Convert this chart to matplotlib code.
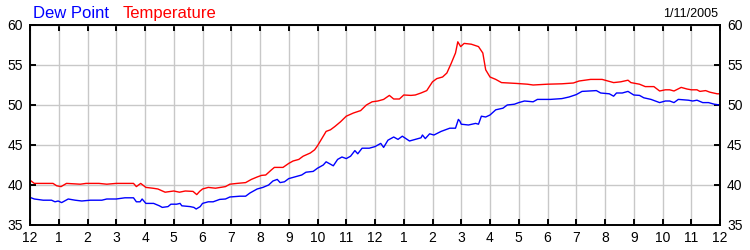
"""Dew point / temperature over one day, 1/11/2005."""

import matplotlib
matplotlib.use('Agg')
import matplotlib.pyplot as plt

plt.rcParams['font.family'] = ['Liberation Sans', 'DejaVu Sans']

# hours since midnight, degrees F
temp_hours = [
    0.0, 0.15, 0.8, 0.93, 1.08, 1.27, 1.75, 1.95, 2.4, 2.67, 3.0, 3.6, 3.7, 3.85,
    4.03, 4.27, 4.45, 4.7, 5.0, 5.2, 5.4, 5.67, 5.8, 5.9, 6.0, 6.2, 6.45, 6.8,
    6.95, 7.2, 7.5, 7.7, 7.9, 8.05, 8.2, 8.4, 8.5, 8.8, 9.0, 9.15, 9.35, 9.5,
    9.75, 9.9, 10.0, 10.15, 10.3, 10.45, 10.6, 10.8, 11.0, 11.25, 11.5, 11.7,
    11.9, 12.1, 12.3, 12.5, 12.65, 12.85, 13.0, 13.25, 13.4, 13.6, 13.8, 14.0,
    14.15, 14.35, 14.5, 14.65, 14.8, 14.88, 14.98, 15.1, 15.35, 15.6, 15.75,
    15.85, 16.0, 16.2, 16.4, 16.9, 17.3, 17.5, 18.0, 18.5, 18.9, 19.1, 19.5,
    19.9, 20.1, 20.3, 20.55, 20.8, 20.9, 21.2, 21.4, 21.7, 21.9, 22.1, 22.25,
    22.4, 22.65, 22.85, 23.0, 23.2, 23.3, 23.5, 23.65, 23.9, 24.0,
]
temp_values = [
    40.6, 40.2, 40.2, 39.9, 39.8, 40.2, 40.1, 40.2, 40.2, 40.1, 40.2, 40.2, 39.8, 40.2,
    39.7, 39.6, 39.5, 39.1, 39.25, 39.1, 39.25, 39.2, 38.8, 39.2, 39.5, 39.7, 39.6, 39.8,
    40.1, 40.2, 40.3, 40.7, 41.0, 41.2, 41.25, 41.9, 42.2, 42.2, 42.7, 43.0, 43.2, 43.6,
    44.0, 44.4, 44.9, 45.8, 46.7, 46.9, 47.3, 47.9, 48.6, 49.0, 49.3, 50.0,
    50.4, 50.5, 50.7, 51.2, 50.75, 50.75, 51.25, 51.2, 51.25, 51.5, 51.8, 52.9,
    53.3, 53.5, 54.0, 55.2, 56.5, 57.9, 57.3, 57.7, 57.6, 57.3, 56.5,
    54.4, 53.5, 53.2, 52.8, 52.7, 52.6, 52.5, 52.6, 52.65, 52.75, 53.0, 53.2,
    53.2, 53.0, 52.8, 52.9, 53.1, 52.8, 52.6, 52.3, 52.3, 51.75, 51.9, 51.9,
    51.75, 52.2, 52.0, 51.9, 51.9, 51.7, 51.8, 51.6, 51.4, 51.4,
]

dew_hours = [
    0.0, 0.15, 0.46, 0.75, 0.87, 0.98, 1.1, 1.33, 1.57, 1.8, 2.1, 2.5, 2.67, 3.0,
    3.3, 3.6, 3.7, 3.83, 3.9, 4.03, 4.3, 4.5, 4.6, 4.8, 4.9, 5.1, 5.22, 5.28,
    5.57, 5.7, 5.78, 5.92, 6.0, 6.2, 6.37, 6.6, 6.8, 6.95, 7.3, 7.5, 7.65, 7.9,
    8.1, 8.3, 8.45, 8.6, 8.7, 8.85, 9.0, 9.2, 9.45, 9.6, 9.85, 10.0, 10.2, 10.3,
    10.4, 10.55, 10.7, 10.85, 11.0, 11.15, 11.3, 11.4, 11.55, 11.8, 12.0, 12.2,
    12.3, 12.45, 12.65, 12.8, 12.95, 13.2, 13.4, 13.6, 13.65, 13.75, 13.9, 14.05,
    14.3, 14.45, 14.6, 14.8, 14.9, 14.95, 15.0, 15.25, 15.5, 15.6, 15.7, 15.85,
    16.0, 16.2, 16.45, 16.6, 16.85, 17.0, 17.2, 17.5, 17.65, 18.1, 18.5, 18.75,
    19.0, 19.2, 19.7, 19.85, 20.15, 20.3, 20.4, 20.6, 20.8, 21.0, 21.2, 21.35,
    21.6, 21.9, 22.1, 22.25, 22.4, 22.55, 22.9, 23.05, 23.2, 23.4, 23.6, 23.8, 24.0,
]
dew_values = [
    38.45, 38.25, 38.1, 38.1, 37.9, 38.0, 37.8, 38.25, 38.1, 38.0, 38.1, 38.1, 38.25, 38.25,
    38.4, 38.4, 37.9, 37.9, 38.25, 37.7, 37.7, 37.4, 37.2, 37.3, 37.6, 37.6, 37.7, 37.4,
    37.3, 37.2, 37.0, 37.3, 37.7, 37.9, 37.9, 38.2, 38.25, 38.5, 38.6, 38.6, 39.0, 39.5,
    39.7, 40.0, 40.5, 40.7, 40.3, 40.4, 40.8, 41.0, 41.25, 41.6, 41.7, 42.1, 42.5, 42.9,
    42.7, 42.4, 43.2, 43.5, 43.3, 43.6, 44.3, 43.9, 44.6, 44.6, 44.8, 45.2,
    44.7, 45.6, 46.0, 45.7, 46.1, 45.5, 45.7, 45.9, 46.25, 45.8, 46.4, 46.25,
    46.7, 46.9, 47.1, 47.1, 48.2, 48.0, 47.6, 47.5, 47.7, 47.6, 48.6, 48.5,
    48.75, 49.4, 49.6, 50.0, 50.1, 50.3, 50.5, 50.4, 50.7, 50.7, 50.8, 51.0,
    51.3, 51.7, 51.8, 51.5, 51.4, 51.1, 51.5, 51.5, 51.7, 51.25, 51.2, 50.9,
    50.7, 50.3, 50.5, 50.5, 50.3, 50.7, 50.6, 50.5, 50.6, 50.3, 50.3, 50.1, 50.0,
]

hour_ticks = list(range(0, 25))
hour_labels = ['12'] + [str(h) for h in range(1, 12)] + ['12'] + [str(h) for h in range(1, 12)] + ['12']
y_ticks = [35, 40, 45, 50, 55, 60]
date_text = '1/11/2005'


fig = plt.figure(figsize=(7.5, 2.5), dpi=100)
ax = fig.add_axes([0.04, 0.1, 0.92, 0.8])

ax.plot(dew_hours, dew_values, color='#0000ff', lw=1.0)
ax.plot(temp_hours, temp_values, color='#ff0000', lw=1.0)

ax.set_xlim(0, 24)
ax.set_ylim(35, 60)
ax.set_xticks(hour_ticks)
ax.set_xticklabels(hour_labels)
ax.set_yticks(y_ticks)
ax.grid(True, color='#c8c8c8', lw=1.0)
ax.set_axisbelow(True)

ax.tick_params(direction='in', length=4, width=1.4, top=True, right=True,
               labelright=True, labelsize=10)
ax.tick_params(axis='y', pad=5)
ax.tick_params(axis='x', pad=4.5)
for s in ax.spines.values():
    s.set_linewidth(1.4)

fig.text(0.044, 0.945, 'Dew Point', color='#0000ff', fontsize=12, va='center')
fig.text(0.164, 0.945, 'Temperature', color='#ff0000', fontsize=12, va='center')
fig.text(0.957, 0.945, date_text, color='black', fontsize=9, va='center', ha='right')

fig.savefig('out.png', dpi=100)
plt.close(fig)
